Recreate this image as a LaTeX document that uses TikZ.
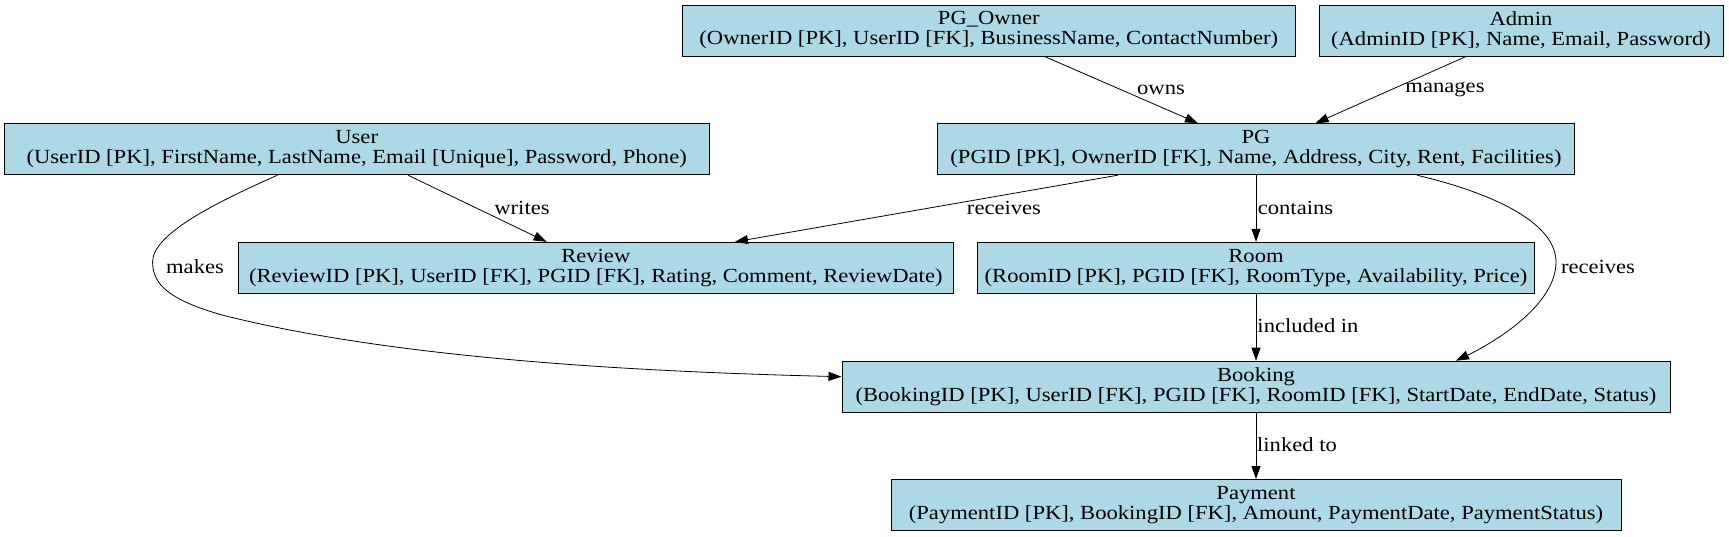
\documentclass[tikz,border=0pt]{standalone}
\usepackage{fontspec}
\setmainfont{Liberation Serif}[FakeStretch=1.13]
\usetikzlibrary{arrows.meta,calc}
\definecolor{boxblue}{RGB}{173,216,230}
\begin{document}
\begin{tikzpicture}[x=0.75pt,y=-0.75pt,
  entity/.style={draw=black, line width=0.75pt, fill=boxblue, align=center, inner sep=0pt,
    minimum height=38.25pt, font=\fontsize{15}{15}\selectfont},
  rel/.style={draw=black, line width=0.6pt, -{Triangle[length=9.75pt,width=6.75pt]}},
  lbl/.style={font=\fontsize{15}{15}\selectfont, inner sep=0pt}]
\useasboundingbox (0,0) rectangle (1729,536);

\node[entity, minimum width=459.3pt] (owner) at (988.8,30.5) {PG\_Owner\\(OwnerID [PK], UserID [FK], BusinessName, ContactNumber)};
\node[entity, minimum width=303pt] (admin) at (1521,30.5) {Admin\\(AdminID [PK], Name, Email, Password)};
\node[entity, minimum width=528.5pt] (user) at (356.7,149.2) {User\\(UserID [PK], FirstName, LastName, Email [Unique], Password, Phone)};
\node[entity, minimum width=477.3pt] (pg) at (1256,149.2) {PG\\(PGID [PK], OwnerID [FK], Name, Address, City, Rent, Facilities)};
\node[entity, minimum width=535.8pt] (review) at (595.8,267.8) {Review\\(ReviewID [PK], UserID [FK], PGID [FK], Rating, Comment, ReviewDate)};
\node[entity, minimum width=417.75pt] (room) at (1256,267.8) {Room\\(RoomID [PK], PGID [FK], RoomType, Availability, Price)};
\node[entity, minimum width=621pt] (booking) at (1256,386.7) {Booking\\(BookingID [PK], UserID [FK], PGID [FK], RoomID [FK], StartDate, EndDate, Status)};
\node[entity, minimum width=547.5pt] (payment) at (1256,505) {Payment\\(PaymentID [PK], BookingID [FK], Amount, PaymentDate, PaymentStatus)};

% edges
\draw[rel] ($(owner.south)+(55.8,0)$) -- ($(pg.north)+(-58,0)$);
\draw[rel] ($(admin.south)+(-55,0)$) -- ($(pg.north)+(59.6,0)$);
\draw[rel] ($(user.south)+(51.3,0)$) -- ($(review.north)+(-49.2,0)$);
\draw[rel] ($(pg.south)+(-138.2,0)$) -- ($(review.north)+(139.2,0)$);
\draw[rel] (pg.south) -- (room.north);
\draw[rel] ($(user.south)+(-79.2,0)$) .. controls (210,205) and (152.6,235) .. (152.6,262)
  .. controls (152.6,285) and (170,300) .. (222,315)
  .. controls (400,360) and (650,372) .. ($(booking.west)+(0,-10)$);
\draw[rel] ($(pg.south)+(161,0)$) .. controls (1500,195) and (1556,225) .. (1556,262)
  .. controls (1556,305) and (1495,342) .. ($(booking.north)+(200,0)$);
\draw[rel] (room.south) -- (booking.north);
\draw[rel] (booking.south) -- (payment.north);

% labels
\node[lbl] (lowns) at (1161,90) {owns};
\node[lbl] (lmanages) at (1445,90) {manages};
\node[lbl] (lwrites) at (522,208) {writes};
\node[lbl] (lreceives1) at (1004,208) {receives};
\node[lbl] (lcontains) at (1295.5,208) {contains};
\node[lbl] (lmakes) at (195,266.7) {makes};
\node[lbl] (lreceives2) at (1598,266.7) {receives};
\node[lbl] (lincluded) at (1308,325.7) {included in};
\node[lbl] (llinked) at (1297,445) {linked to};
\end{tikzpicture}
\end{document}
